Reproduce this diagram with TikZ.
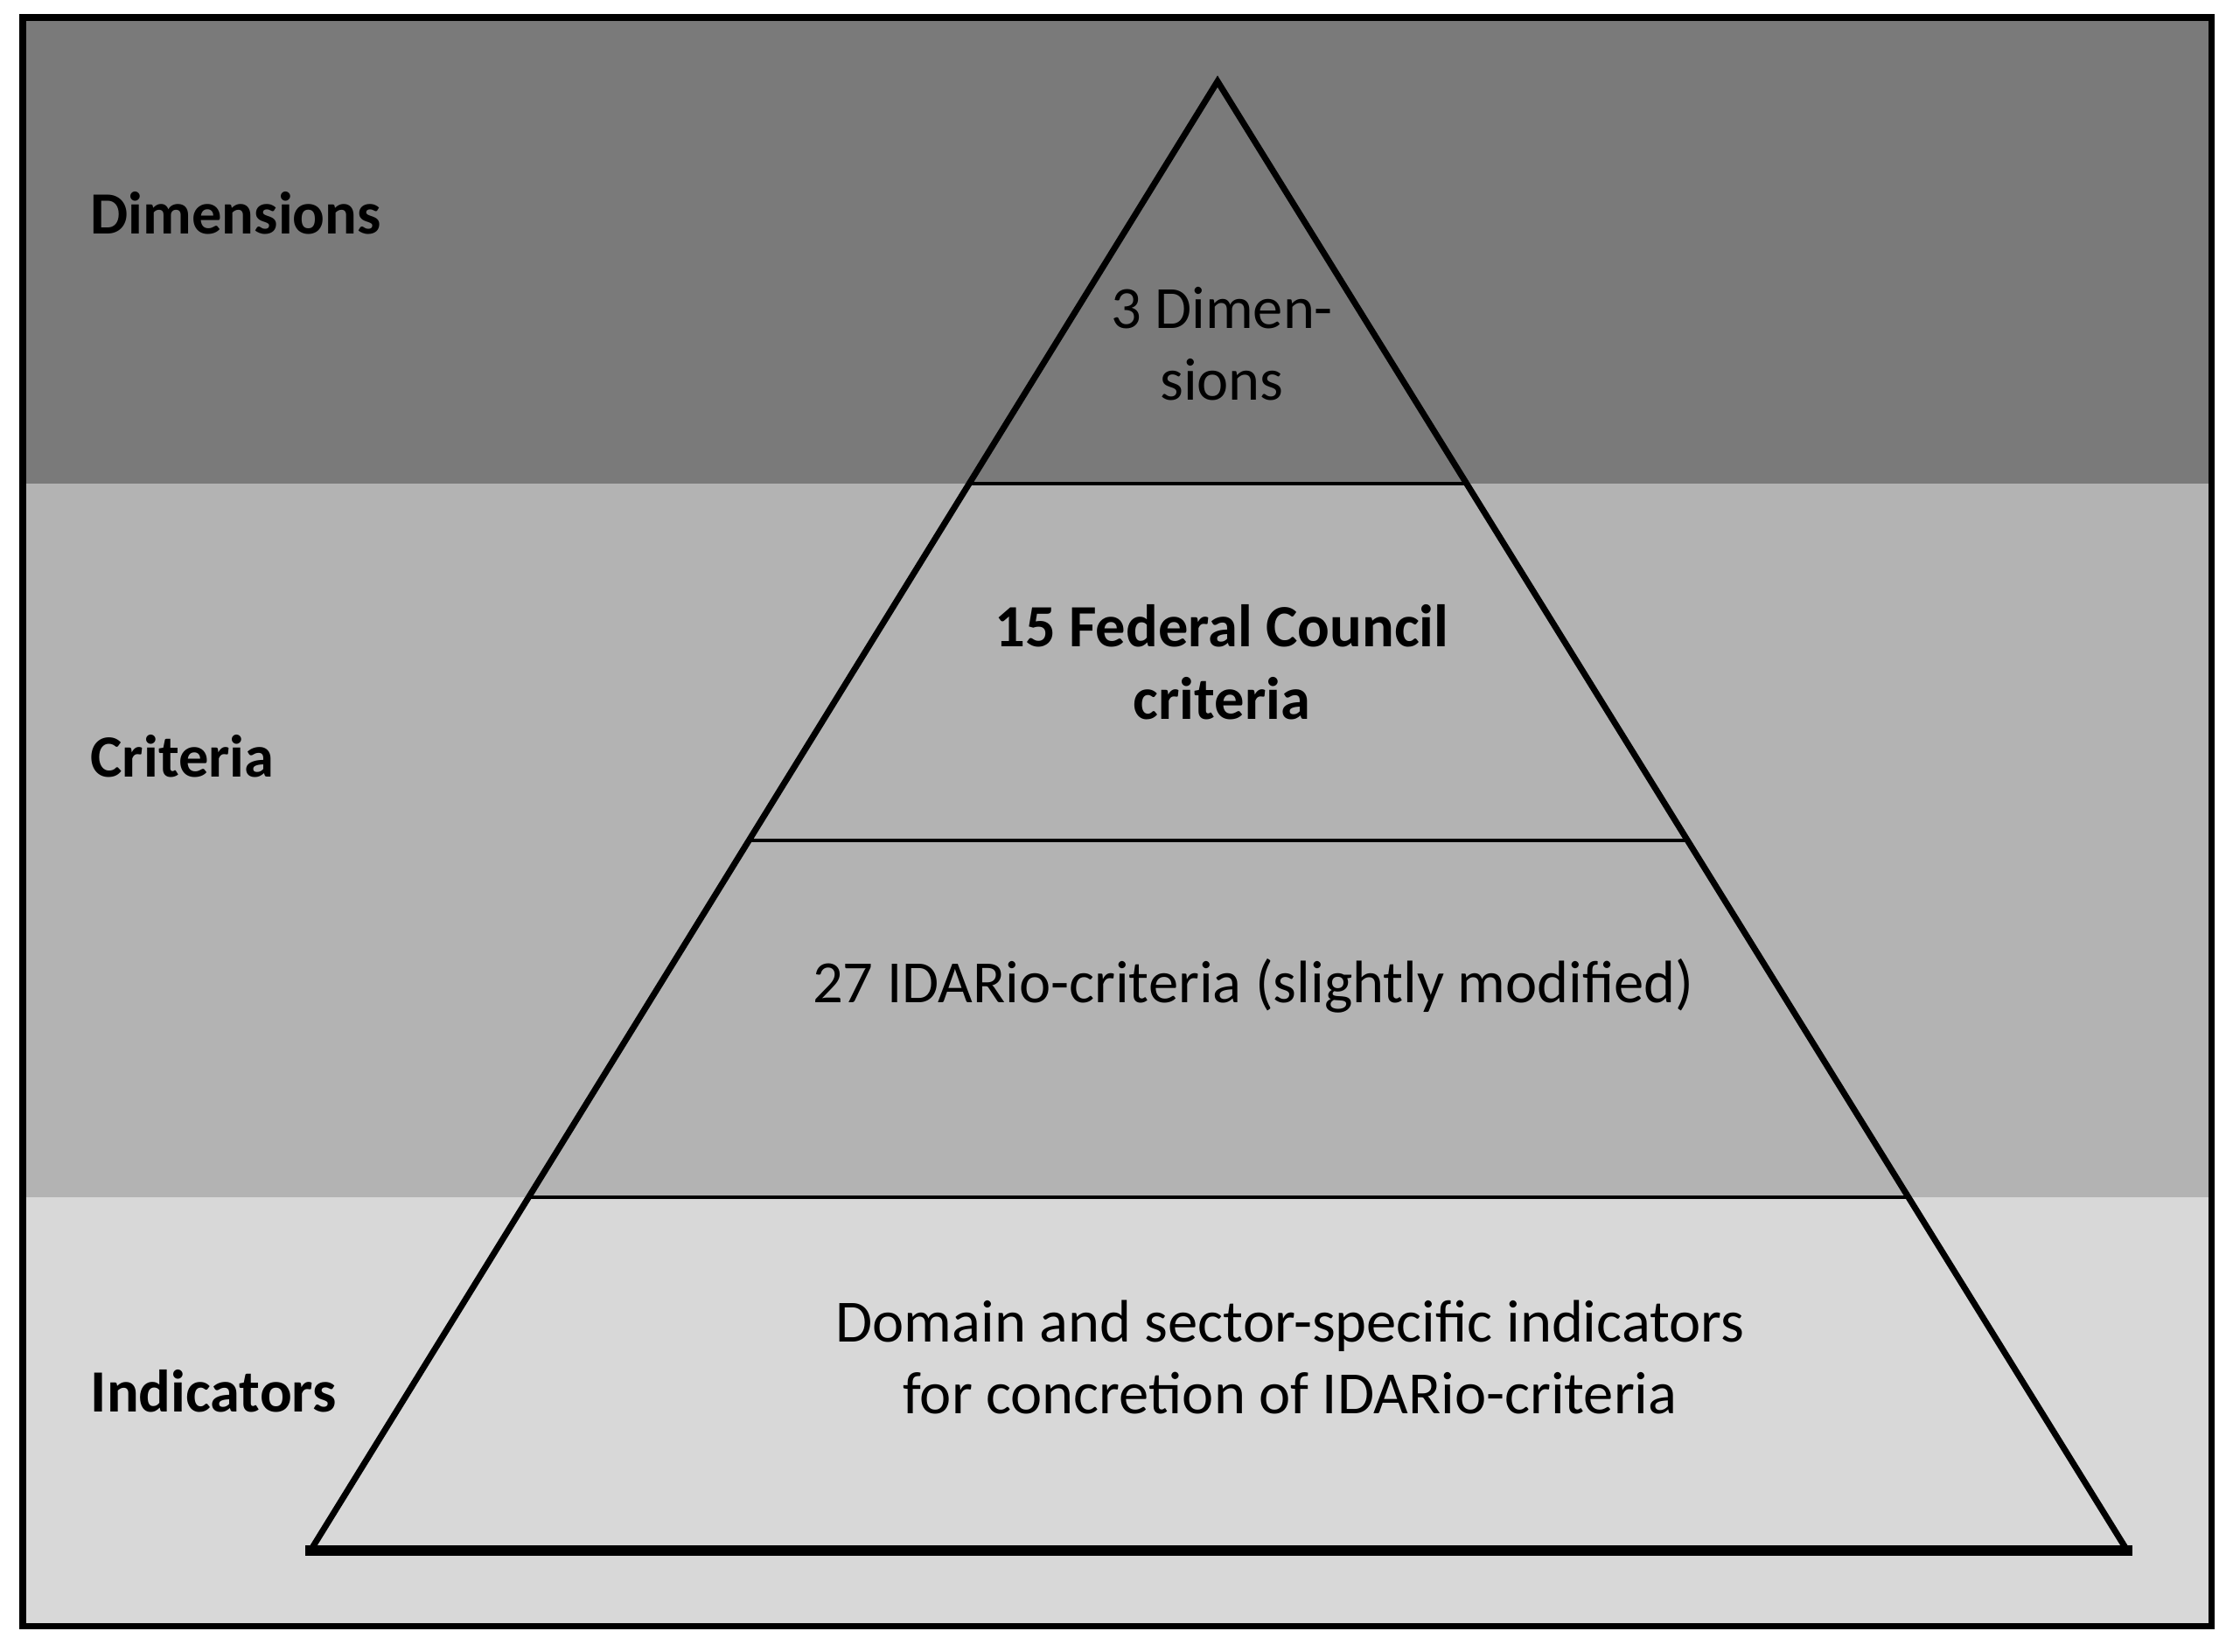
\documentclass[tikz,border=0pt]{standalone}
\usepackage{fontspec}
\setmainfont{Carlito}
\usetikzlibrary{calc}

\definecolor{banddunkel}{RGB}{122,122,122}
\definecolor{bandmittel}{RGB}{179,179,179}
\definecolor{bandhell}{RGB}{216,216,216}

\begin{document}
\begin{tikzpicture}[
        every node/.style={font=\fontsize{19.5}{23.5}\selectfont, inner sep=0pt},
        ebene/.style={align=center},
        seite/.style={anchor=west, font=\fontsize{19.5}{23.5}\selectfont\bfseries},
        pyrkante/.style={draw=black, line width=2pt, line join=miter},
        basis/.style={draw=black, line width=3.2pt, line cap=rect},
        trenner/.style={draw=black, line width=1pt}
    ]
        \useasboundingbox[fill=white] (0,0) rectangle (25.53,-18.88);

        % bands
        \fill[banddunkel] (0.26,-0.20)  rectangle (25.28,-5.53);
        \fill[bandmittel] (0.26,-5.53)  rectangle (25.28,-13.69);
        \fill[bandhell]   (0.26,-13.69) rectangle (25.28,-18.59);
        \draw[line width=2pt] (0.26,-0.20) rectangle (25.28,-18.59);

        % pyramid
        \coordinate (top) at (13.92,-0.93);
        \coordinate (bl)  at (3.55,-17.73);
        \coordinate (br)  at (24.32,-17.73);
        \draw[trenner] ($(top)!0.2738!(bl)$) -- ($(top)!0.2738!(br)$);
        \draw[trenner] ($(top)!0.5167!(bl)$) -- ($(top)!0.5167!(br)$);
        \draw[trenner] ($(top)!0.7595!(bl)$) -- ($(top)!0.7595!(br)$);
        \draw[pyrkante] (bl) -- (top) -- (br);
        \draw[basis] (bl) -- (br);

        % labels left
        \node[seite] (dim) at (1.03,-2.44)  {Dimensions};
        \node[seite] (cri) at (1.03,-8.65)  {Criteria};
        \node[seite] (ind) at (1.03,-15.91) {Indicators};

        % levels
        \node[ebene] (l1) at (13.97,-3.93)  {3 Dimen-\\sions};
        \node[ebene, font=\fontsize{19.5}{23.5}\selectfont\bfseries]
                     (l2) at (13.97,-7.57)  {15 Federal Council\\criteria};
        \node[ebene] (l3) at (14.33,-11.27) {27 IDARio-criteria (slightly modified)};
        \node[ebene] (l4) at (14.75,-15.52) {Domain and sector-specific indicators\\for concretion of IDARio-criteria};
    \end{tikzpicture}
\end{document}
